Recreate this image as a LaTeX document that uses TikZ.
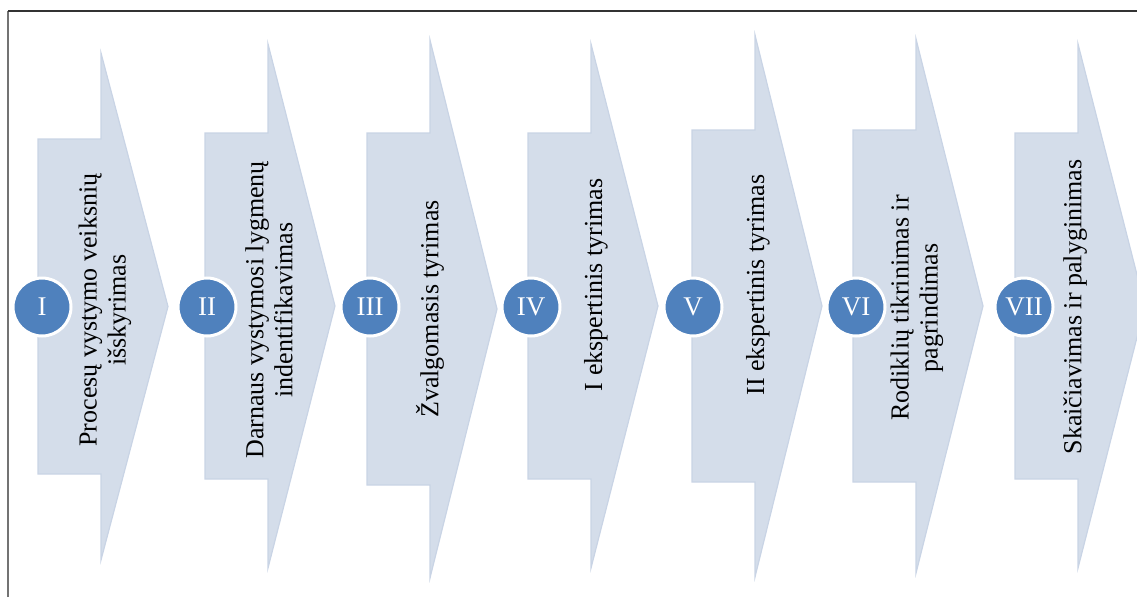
\documentclass[tikz,border=0pt]{standalone}
\usepackage{fontspec}
\setmainfont{Liberation Serif}
\usepackage{tikz}
\definecolor{stepfill}{RGB}{212,221,234}
\definecolor{stepedge}{RGB}{201,212,229}
\definecolor{numblue}{RGB}{79,129,189}

\begin{document}
\begin{tikzpicture}[x=1pt, y=-1pt,
    numcircle/.style={circle, draw=white, line width=3pt, fill=numblue, minimum size=58pt, inner sep=0pt, text=white, font=\fontsize{27}{27}\selectfont},
    steptext/.style={rotate=90, align=center, font=\fontsize{26}{29}\selectfont}]
        \useasboundingbox (0,0) rectangle (1137,597);
        \clip (0,0) rectangle (1137,597);
        % frame
        \draw[black!55, line width=1.8pt] (8,597) -- (8,11);
        \draw[black!80, line width=1.8pt] (8,11) -- (1137,11);
        % step arrows
        \foreach \x/\c/\hb/\hh in {38/306.5/167.5/253.5, 205/306/173/262, 367/309/176/269, 528/306/173/262, 692/306/176/271, 853/306/176/267, 1015/306/173/262}
          \filldraw[fill=stepfill, draw=stepedge, line width=1.2pt] (\x,\c-\hb) -- (\x+63,\c-\hb) -- (\x+63,\c-\hh) -- (\x+130,\c) -- (\x+63,\c+\hh) -- (\x+63,\c+\hb) -- (\x,\c+\hb) -- cycle;
        % numbers
        \node[numcircle] (n1) at (42,307) {I};
        \node[numcircle] (n2) at (207,307) {II};
        \node[numcircle] (n3) at (370,307) {III};
        \node[numcircle] (n4) at (531,307) {IV};
        \node[numcircle] (n5) at (693,307) {V};
        \node[numcircle] (n6) at (856,307) {VI};
        \node[numcircle] (n7) at (1024,307) {VII};
        % labels
        \node[steptext] (t1) at (105,310) {Procesų vystymo veiksnių\\išskyrimas};
        \node[steptext] (t2) at (269,310) {Darnaus vystymosi lygmenų\\indentifikavimas};
        \node[steptext] (t3) at (430,309) {Žvalgomasis tyrimas};
        \node[steptext] (t4) at (596,285) {I ekspertinis tyrimas};
        \node[steptext] (t5) at (758,285) {II ekspertinis tyrimas};
        \node[steptext] (t6) at (917,308) {Rodiklių tikrinimas ir\\pagrindimas};
        \node[steptext] (t7) at (1075,307) {Skaičiavimas ir palyginimas};
      \end{tikzpicture}
\end{document}
